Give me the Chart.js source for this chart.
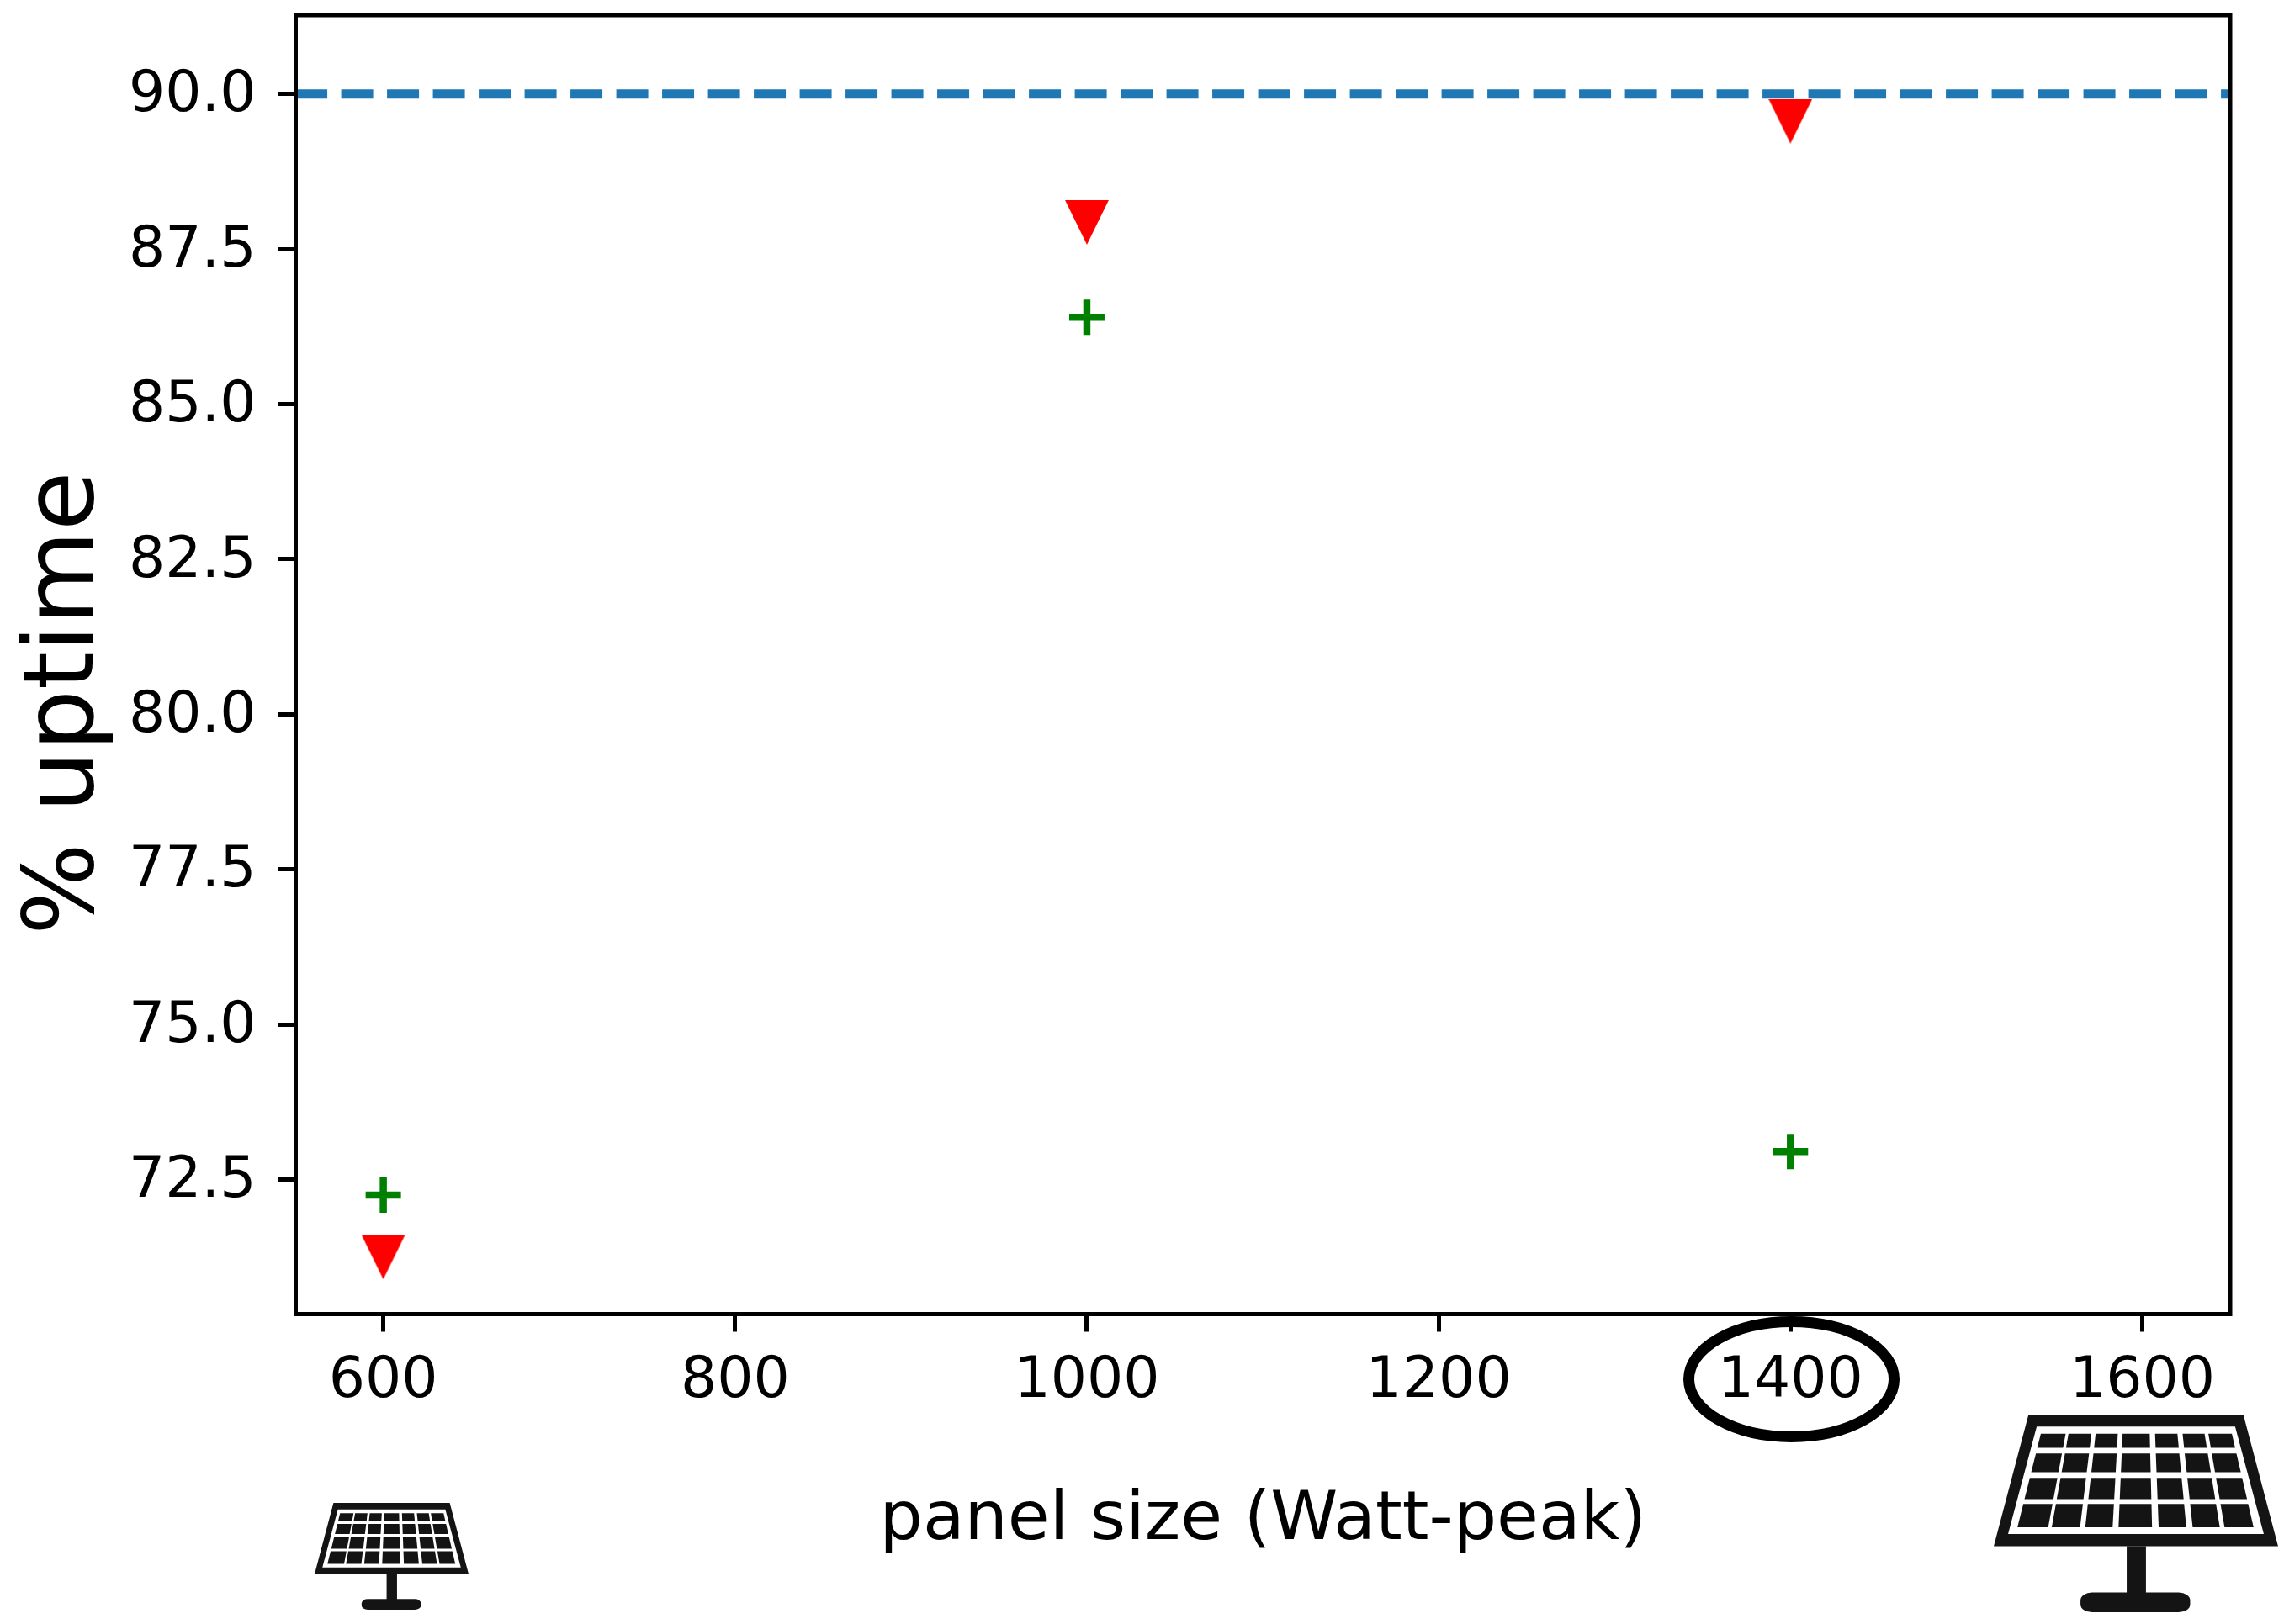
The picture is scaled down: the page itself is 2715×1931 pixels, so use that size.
<!DOCTYPE html>
<html>
<head>
<meta charset="utf-8">
<title>Uptime vs panel size</title>
<script src="https://cdn.jsdelivr.net/npm/chart.js@4/dist/chart.umd.min.js"></script>
<style>
  html, body { margin: 0; padding: 0; background: #fff; }
  canvas { display: block; }
</style>
</head>
<body>
<canvas id="uptimeChart" width="2715" height="1931"></canvas>
<script>
// values
const panelSizes = [600, 1000, 1400];
const greenUptime = [72.25, 86.4, 72.95];
const redUptime = [71.25, 87.93, 89.56];
const targetX = [550, 1651];
const targetY = [90, 90];
const xTicks = [600, 800, 1000, 1200, 1400, 1600];
const yTicks = [72.5, 75, 77.5, 80, 82.5, 85, 87.5, 90];
const xRange = [550.2, 1650];
const yRange = [70.33, 91.27];

const FONT = '"DejaVu Sans"';
const INK = '#000000';

let redMarker = function () {
    let c = document.createElement('canvas');
    c.width = 52;
    c.height = 53;
    let g = c.getContext('2d');
    g.fillStyle = '#ff0000';
    g.beginPath();
    g.moveTo(0, 0);
    g.lineTo(52, 0);
    g.lineTo(26, 53);
    g.closePath();
    g.fill();
    return c;
}();

// solar panel icon, drawn in a 695 x 703 design box
function drawPanel(ctx, x, y, w, h) {
    ctx.save();
    ctx.translate(x, y);
    ctx.scale(w / 695, h / 703);
    ctx.fillStyle = '#141414';
    ctx.beginPath();
    ctx.moveTo(85, 0);
    ctx.lineTo(610, 0);
    ctx.lineTo(695, 468);
    ctx.lineTo(0, 468);
    ctx.closePath();
    ctx.fill();
    ctx.fillRect(325, 468, 47, 170);
    ctx.beginPath();
    ctx.roundRect(212, 633, 268, 70, 28);
    ctx.fill();
    ctx.fillStyle = '#ffffff';
    ctx.beginPath();
    ctx.moveTo(105, 43);
    ctx.lineTo(590, 43);
    ctx.lineTo(660, 425);
    ctx.lineTo(35, 425);
    ctx.closePath();
    ctx.fill();
    ctx.fillStyle = '#141414';
    let rows = [[68, 118], [138, 205], [225, 301], [318, 401]];
    let cols = [[0, .13], [.145, .265], [.287, .403], [.428, .57], [.598, .715], [.742, .857], [.877, 1]];
    let edge = function (t, v) {
        let k = (v - 68) / 333;
        let l = 115 - 57 * k;
        let r = 582 + 53 * k;
        return l + (r - l) * t;
    };
    rows.forEach(function (row) {
        cols.forEach(function (col) {
            ctx.beginPath();
            ctx.moveTo(edge(col[0], row[0]), row[0]);
            ctx.lineTo(edge(col[1], row[0]), row[0]);
            ctx.lineTo(edge(col[1], row[1]), row[1]);
            ctx.lineTo(edge(col[0], row[1]), row[1]);
            ctx.closePath();
            ctx.fill();
        });
    });
    ctx.restore();
}

const decorations = {
    id: 'decorations',
    afterDraw(chart) {
        let ctx = chart.ctx;
        let a = chart.chartArea;
        ctx.save();
        ctx.strokeStyle = '#000';
        ctx.lineWidth = 5;
        ctx.strokeRect(a.left, a.top, a.right - a.left, a.bottom - a.top);
        ctx.lineWidth = 13;
        ctx.beginPath();
        ctx.ellipse(2129.5, 1640, 122, 68.5, 0, 0, Math.PI * 2);
        ctx.stroke();
        ctx.fillStyle = INK;
        ctx.font = '115px ' + FONT;
        ctx.textAlign = 'center';
        ctx.textBaseline = 'alphabetic';
        ctx.translate(110, 836);
        ctx.rotate(-Math.PI / 2);
        ctx.fillText('% uptime', 0, 0);
        ctx.restore();
        drawPanel(ctx, 374, 1787, 183, 127);
        drawPanel(ctx, 2370, 1682, 338, 235);
    }
};

function points(xs, ys) {
    return xs.map(function (x, i) { return { x: x, y: ys[i] }; });
}

let ctx = document.getElementById('uptimeChart').getContext('2d');
new Chart(ctx, {
    type: 'scatter',
    plugins: [decorations],
    data: {
        datasets: [
            {
                label: 'target',
                type: 'line',
                data: points(targetX, targetY),
                borderColor: '#1f77b4',
                borderWidth: 11,
                borderDash: [38, 16.5],
                pointRadius: 0,
                order: 3
            },
            {
                label: 'green',
                data: points(panelSizes, greenUptime),
                pointStyle: 'cross',
                pointRadius: 21,
                pointBorderWidth: 8.5,
                pointBorderColor: '#008000',
                order: 2
            },
            {
                label: 'red',
                data: points(panelSizes, redUptime),
                pointStyle: redMarker,
                order: 1
            }
        ]
    },
    options: {
        responsive: false,
        animation: false,
        devicePixelRatio: 1,
        layout: { autoPadding: false, padding: { top: 18, right: 64, left: 0, bottom: 0 } },
        plugins: { legend: { display: false }, tooltip: { enabled: false } },
        scales: {
            x: {
                type: 'linear',
                min: xRange[0],
                max: xRange[1],
                afterBuildTicks: function (axis) {
                    axis.ticks = xTicks.map(function (v) { return { value: v }; });
                },
                afterFit: function (axis) {
                    axis.height = 368.5;
                    axis.paddingLeft = 0;
                    axis.paddingRight = 0;
                },
                border: { display: false },
                grid: { drawOnChartArea: false, tickLength: 21, tickWidth: 5, tickColor: '#000' },
                ticks: {
                    font: { family: FONT, size: 68 },
                    color: INK,
                    padding: 19,
                    maxRotation: 0,
                    autoSkip: false,
                    callback: function (v) { return String(v); }
                },
                title: {
                    display: true,
                    text: 'panel size (Watt-peak)',
                    font: { family: FONT, size: 81 },
                    color: INK,
                    padding: { top: 0, bottom: 73 }
                }
            },
            y: {
                min: yRange[0],
                max: yRange[1],
                afterBuildTicks: function (axis) {
                    axis.ticks = yTicks.map(function (v) { return { value: v }; });
                },
                afterFit: function (axis) {
                    axis.width = 351.5;
                    axis.paddingTop = 0;
                    axis.paddingBottom = 0;
                },
                border: { display: false },
                grid: { drawOnChartArea: false, tickLength: 21, tickWidth: 5, tickColor: '#000' },
                ticks: {
                    font: { family: FONT, size: 68 },
                    color: INK,
                    padding: 26,
                    labelOffset: 3,
                    autoSkip: false,
                    callback: function (v) { return v.toFixed(1); }
                }
            }
        }
    }
});
</script>
</body>
</html>
